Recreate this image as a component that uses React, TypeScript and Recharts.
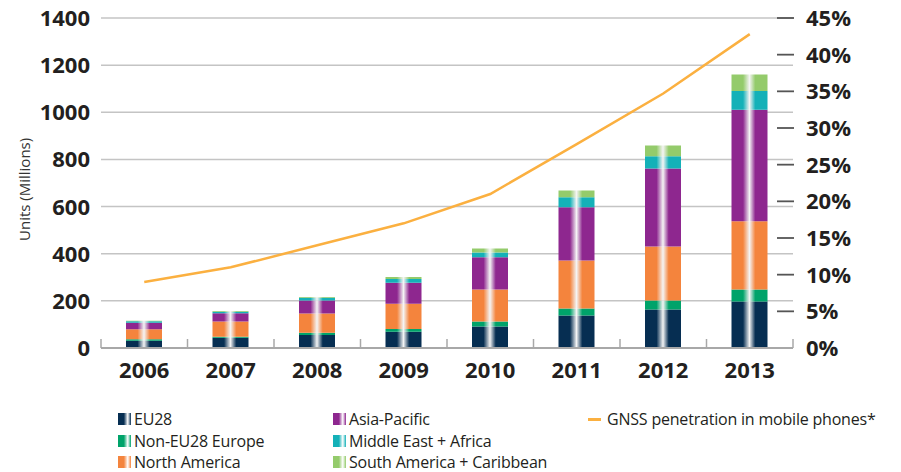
import React from 'react';
import { ComposedChart, Bar, Line, XAxis, YAxis, CartesianGrid } from 'recharts';

const years = ['2006', '2007', '2008', '2009', '2010', '2011', '2012', '2013'];
const eu28 = [31, 44, 55, 69, 91, 138, 163, 197];
const nonEu28 = [6, 4, 10, 12, 21, 30, 39, 51];
const northAmerica = [43, 64, 81, 107, 136, 203, 229, 290];
const asiaPacific = [27, 35, 55, 89, 137, 226, 331, 473];
const middleEastAfrica = [6, 7, 12, 16, 20, 43, 52, 79];
const southAmerica = [3, 3, 3, 8, 17, 28, 45, 70];
const gnssPenetration = [9, 11, 14, 17, 21, 27.8, 34.7, 42.8];
const unitTicks = [0, 200, 400, 600, 800, 1000, 1200, 1400];
const pctTicks = [0, 5, 10, 15, 20, 25, 30, 35, 40, 45];

const W = 901;
const H = 472;
const LEFT = 101;
const RIGHT = 793;
const BOTTOM = 348;
const BAND = (RIGHT - LEFT) / years.length;
const FONT = '"Open Sans", sans-serif';
const TXT = '#231f20';

const series = [
  { key: 'eu28', name: 'EU28', color: '#062e52', values: eu28 },
  { key: 'nonEu28', name: 'Non-EU28 Europe', color: '#00a36a', values: nonEu28 },
  { key: 'northAmerica', name: 'North America', color: '#f4843d', values: northAmerica },
  { key: 'asiaPacific', name: 'Asia-Pacific', color: '#8e278f', values: asiaPacific },
  { key: 'middleEastAfrica', name: 'Middle East + Africa', color: '#14b1b8', values: middleEastAfrica },
  { key: 'southAmerica', name: 'South America + Caribbean', color: '#94cb6b', values: southAmerica },
];
const lineColor = '#fbb040';
const lineName = 'GNSS penetration in mobile phones*';

const data = years.map((year, i) => {
  const row: any = { year, gnss: gnssPenetration[i] };
  series.forEach((s) => (row[s.key] = s.values[i]));
  return row;
});

const XTick = (props: any) => {
  const { x, y, payload, index } = props;
  const half = BAND / 2;
  return (
    <g>
      <line x1={x - half} x2={x - half} y1={BOTTOM} y2={BOTTOM - 9} stroke="#a8a8a8" strokeWidth={1.5} />
      {index === years.length - 1 && (
        <line x1={x + half} x2={x + half} y1={BOTTOM} y2={BOTTOM - 9} stroke="#a8a8a8" strokeWidth={1.5} />
      )}
      <text x={x} y={y + 30} textAnchor="middle" fontFamily={FONT} fontWeight={700} fontSize={22} fill={TXT}>
        {payload.value}
      </text>
    </g>
  );
};

const LeftTick = (props: any) => {
  const { x, y, payload } = props;
  return (
    <text x={x} y={y} dy={8} textAnchor="end" fontFamily={FONT} fontWeight={700} fontSize={22} fill={TXT}>
      {payload.value}
    </text>
  );
};

const RightTick = (props: any) => {
  const { x, y, payload } = props;
  return (
    <g>
      {payload.value !== 0 && <line x1={x - 16} x2={x + 1} y1={y} y2={y} stroke="#555" strokeWidth={1.8} />}
      <text x={x + 13} y={y} dy={8} textAnchor="start" fontFamily={FONT} fontWeight={700} fontSize={22} fill={TXT}>
        {payload.value}%
      </text>
    </g>
  );
};

const legendCols = [
  { x: 118, items: series.slice(0, 3) },
  { x: 333, items: series.slice(3, 6) },
];
const legendRows = [419, 441, 462];

const Legend = () => (
  <div style={{ position: 'absolute', left: 0, top: 0, width: W, height: H, pointerEvents: 'none', fontFamily: FONT, fontSize: 16, color: TXT }}>
    {legendCols.map((col) =>
      col.items.map((s, r) => (
        <div key={s.key} style={{ position: 'absolute', left: col.x, top: legendRows[r] - 11, height: 22, display: 'flex', alignItems: 'center', whiteSpace: 'nowrap', letterSpacing: -0.2 }}>
          <span style={{ width: 13, height: 12, marginRight: 3, background: `linear-gradient(to right, ${s.color} 0%, ${s.color} 45%, #ffffff 75%, ${s.color} 100%)` }} />
          {s.name}
        </div>
      ))
    )}
    <div style={{ position: 'absolute', left: 588, top: legendRows[0] - 11, height: 22, display: 'flex', alignItems: 'center', whiteSpace: 'nowrap', letterSpacing: -0.2 }}>
      <span style={{ width: 13, height: 3, marginRight: 6, background: lineColor }} />
      {lineName}
    </div>
  </div>
);

export default function App() {
  return (
    <div style={{ position: 'relative', width: W, height: H, overflow: 'hidden', background: '#fff' }}>
      <style>{'body{margin:0;overflow:hidden}'}</style>
      <ComposedChart width={W} height={H} data={data} margin={{ top: 18, right: 0, left: 0, bottom: H - BOTTOM - 50 }}>
        <defs>
          {series.map((s) => (
            <linearGradient key={s.key} id={'grad-' + s.key} x1="0" y1="0" x2="1" y2="0">
              <stop offset="0%" stopColor={s.color} />
              <stop offset="32%" stopColor={s.color} />
              <stop offset="50%" stopColor="#f4f4f4" />
              <stop offset="66%" stopColor={s.color} />
              <stop offset="100%" stopColor={s.color} />
            </linearGradient>
          ))}
        </defs>
        <CartesianGrid yAxisId="left" vertical={false} stroke="#c4c4c4" strokeWidth={1.5} />
        <XAxis
          dataKey="year"
          height={50}
          tickSize={0}
          tickMargin={0}
          tick={<XTick />}
          axisLine={{ stroke: '#a8a8a8', strokeWidth: 2 }}
          interval={0}
        />
        <YAxis
          yAxisId="left"
          width={LEFT}
          domain={[0, 1400]}
          ticks={unitTicks}
          tickSize={0}
          tickMargin={11}
          tick={<LeftTick />}
          axisLine={false}
          tickLine={false}
          label={{ value: 'Units (Millions)', angle: -90, position: 'insideLeft', dx: 20, dy: 58, style: { fontFamily: FONT, fontSize: 15, fill: '#333' } }}
        />
        <YAxis
          yAxisId="right"
          orientation="right"
          width={W - RIGHT}
          domain={[0, 45]}
          ticks={pctTicks}
          tickSize={0}
          tickMargin={0}
          tick={<RightTick />}
          axisLine={false}
          tickLine={false}
        />
        {series.map((s) => (
          <Bar key={s.key} yAxisId="left" dataKey={s.key} name={s.name} stackId="units" fill={`url(#grad-${s.key})`} barSize={36} isAnimationActive={false} />
        ))}
        <Line yAxisId="right" dataKey="gnss" name={lineName} stroke={lineColor} strokeWidth={2.5} dot={false} type="linear" isAnimationActive={false} />
      </ComposedChart>
      <Legend />
    </div>
  );
}
